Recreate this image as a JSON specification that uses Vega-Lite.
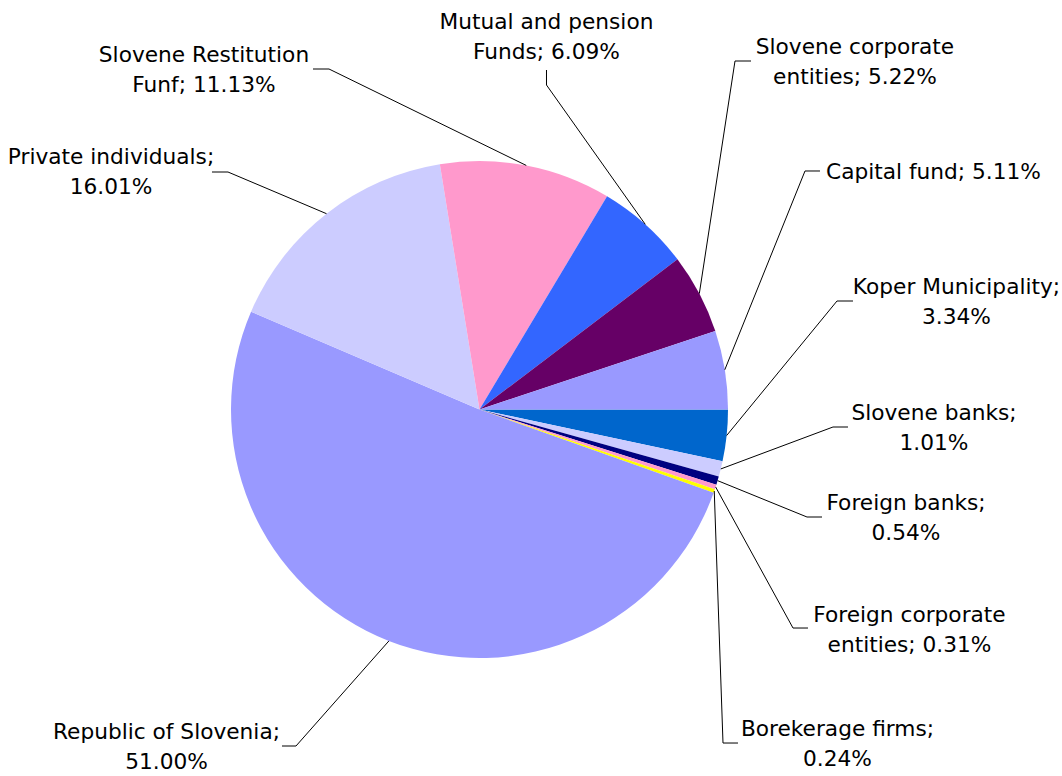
{
  "$schema": "https://vega.github.io/schema/vega-lite/v6.json",
  "width": 1062,
  "height": 776,
  "autosize": "none",
  "padding": 0,
  "background": "white",
  "config": {"view": {"stroke": null}},
  "datasets": {
    "slices": [
      {"name": "Koper Municipality", "value": 3.34, "order": 1},
      {"name": "Slovene banks", "value": 1.01, "order": 2},
      {"name": "Foreign banks", "value": 0.54, "order": 3},
      {"name": "Foreign corporate entities", "value": 0.31, "order": 4},
      {"name": "Borekerage firms", "value": 0.24, "order": 5},
      {"name": "Republic of Slovenia", "value": 51.0, "order": 6},
      {"name": "Private individuals", "value": 16.01, "order": 7},
      {"name": "Slovene Restitution Funf", "value": 11.13, "order": 8},
      {"name": "Mutual and pension Funds", "value": 6.09, "order": 9},
      {"name": "Slovene corporate entities", "value": 5.22, "order": 10},
      {"name": "Capital fund", "value": 5.11, "order": 11}
    ],
    "labels": [
      {"name": "Koper Municipality", "label": "Koper Municipality;\n3.34%", "lx": 1.9195, "ly": 0.4326},
      {"name": "Slovene banks", "label": "Slovene banks;\n1.01%", "lx": 1.829, "ly": -0.0744},
      {"name": "Foreign banks", "label": "Foreign banks;\n0.54%", "lx": 1.7163, "ly": -0.4366},
      {"name": "Foreign corporate entities", "label": "Foreign corporate\nentities; 0.31%", "lx": 1.7304, "ly": -0.8873},
      {"name": "Borekerage firms", "label": "Borekerage firms;\n0.24%", "lx": 1.4406, "ly": -1.3461},
      {"name": "Republic of Slovenia", "label": "Republic of Slovenia;\n51.00%", "lx": -1.2596, "ly": -1.3581},
      {"name": "Private individuals", "label": "Private individuals;\n16.01%", "lx": -1.4829, "ly": 0.9557},
      {"name": "Slovene Restitution Funf", "label": "Slovene Restitution\nFunf; 11.13%", "lx": -1.1087, "ly": 1.3662},
      {"name": "Mutual and pension Funds", "label": "Mutual and pension\nFunds; 6.09%", "lx": 0.2696, "ly": 1.499},
      {"name": "Slovene corporate entities", "label": "Slovene corporate\nentities; 5.22%", "lx": 1.5111, "ly": 1.3984},
      {"name": "Capital fund", "label": "Capital fund; 5.11%", "lx": 1.827, "ly": 0.8953}
    ],
    "leaders": [
      {"name": "Koper Municipality", "seq": 1, "px": 1.503, "py": 0.4366},
      {"name": "Koper Municipality", "seq": 2, "px": 1.4386, "py": 0.4366},
      {"name": "Koper Municipality", "seq": 3, "px": 0.9945, "py": -0.1047},
      {"name": "Slovene banks", "seq": 1, "px": 1.4829, "py": -0.0704},
      {"name": "Slovene banks", "seq": 2, "px": 1.4225, "py": -0.0704},
      {"name": "Slovene banks", "seq": 3, "px": 0.971, "py": -0.2392},
      {"name": "Foreign banks", "seq": 1, "px": 1.3783, "py": -0.4326},
      {"name": "Foreign banks", "seq": 2, "px": 1.3179, "py": -0.4326},
      {"name": "Foreign banks", "seq": 3, "px": 0.9582, "py": -0.2862},
      {"name": "Foreign corporate entities", "seq": 1, "px": 1.3219, "py": -0.8793},
      {"name": "Foreign corporate entities", "seq": 2, "px": 1.2616, "py": -0.8793},
      {"name": "Foreign corporate entities", "seq": 3, "px": 0.9502, "py": -0.3116},
      {"name": "Borekerage firms", "seq": 1, "px": 1.0402, "py": -1.3421},
      {"name": "Borekerage firms", "seq": 2, "px": 0.9799, "py": -1.3421},
      {"name": "Borekerage firms", "seq": 3, "px": 0.9447, "py": -0.328},
      {"name": "Republic of Slovenia", "seq": 1, "px": -0.7948, "py": -1.3541},
      {"name": "Republic of Slovenia", "seq": 2, "px": -0.7384, "py": -1.3541},
      {"name": "Republic of Slovenia", "seq": 3, "px": -0.3645, "py": -0.9312},
      {"name": "Private individuals", "seq": 1, "px": -1.0765, "py": 0.9557},
      {"name": "Private individuals", "seq": 2, "px": -1.0121, "py": 0.9557},
      {"name": "Private individuals", "seq": 3, "px": -0.6157, "py": 0.788},
      {"name": "Slovene Restitution Funf", "seq": 1, "px": -0.67, "py": 1.3702},
      {"name": "Slovene Restitution Funf", "seq": 2, "px": -0.6056, "py": 1.3702},
      {"name": "Slovene Restitution Funf", "seq": 3, "px": 0.1882, "py": 0.9821},
      {"name": "Mutual and pension Funds", "seq": 1, "px": 0.2696, "py": 1.3662},
      {"name": "Mutual and pension Funds", "seq": 2, "px": 0.2696, "py": 1.3058},
      {"name": "Mutual and pension Funds", "seq": 3, "px": 0.6671, "py": 0.745},
      {"name": "Slovene corporate entities", "seq": 1, "px": 1.0926, "py": 1.4024},
      {"name": "Slovene corporate entities", "seq": 2, "px": 1.0282, "py": 1.4024},
      {"name": "Slovene corporate entities", "seq": 3, "px": 0.8846, "py": 0.4664},
      {"name": "Capital fund", "seq": 1, "px": 1.3702, "py": 0.9598},
      {"name": "Capital fund", "seq": 2, "px": 1.3099, "py": 0.9598},
      {"name": "Capital fund", "seq": 3, "px": 0.9871, "py": 0.1599}
    ]
  },
  "layer": [
    {
      "data": {"name": "slices"},
      "mark": {"type": "arc", "outerRadius": 248.5, "stroke": null},
      "encoding": {
        "x": {"datum": 0, "type": "quantitative", "scale": {"domain": [-1.9296, 2.3441], "nice": false, "zero": false}, "axis": null},
        "y": {"datum": 0, "type": "quantitative", "scale": {"domain": [-1.4748, 1.6479], "nice": false, "zero": false}, "axis": null},
        "theta": {"field": "value", "type": "quantitative", "stack": true, "scale": {"range": [1.5707963, 7.8539816]}},
        "order": {"field": "order", "type": "quantitative"},
        "color": {
          "field": "name", "type": "nominal", "legend": null,
          "scale": {
            "domain": ["Koper Municipality", "Slovene banks", "Foreign banks", "Foreign corporate entities", "Borekerage firms", "Republic of Slovenia", "Private individuals", "Slovene Restitution Funf", "Mutual and pension Funds", "Slovene corporate entities", "Capital fund"],
            "range": ["#0066CC", "#CCCCFF", "#000080", "#FF99CC", "#FFFF00", "#9999FF", "#CCCCFF", "#FF99CC", "#3366FF", "#660066", "#9999FF"]
          }
        }
      }
    },
    {
      "data": {"name": "leaders"},
      "mark": {"type": "line", "stroke": "black", "strokeWidth": 1, "interpolate": "linear"},
      "encoding": {
        "x": {"field": "px", "type": "quantitative"},
        "y": {"field": "py", "type": "quantitative"},
        "detail": {"field": "name", "type": "nominal"},
        "order": {"field": "seq", "type": "quantitative"}
      }
    },
    {
      "data": {"name": "labels"},
      "mark": {"type": "text", "font": "DejaVu Sans", "fontSize": 21.7, "lineHeight": 30, "lineBreak": "\n", "align": "center", "baseline": "middle", "dy": -15, "color": "black"},
      "encoding": {
        "x": {"field": "lx", "type": "quantitative"},
        "y": {"field": "ly", "type": "quantitative"},
        "text": {"field": "label", "type": "nominal"}
      }
    }
  ]
}
